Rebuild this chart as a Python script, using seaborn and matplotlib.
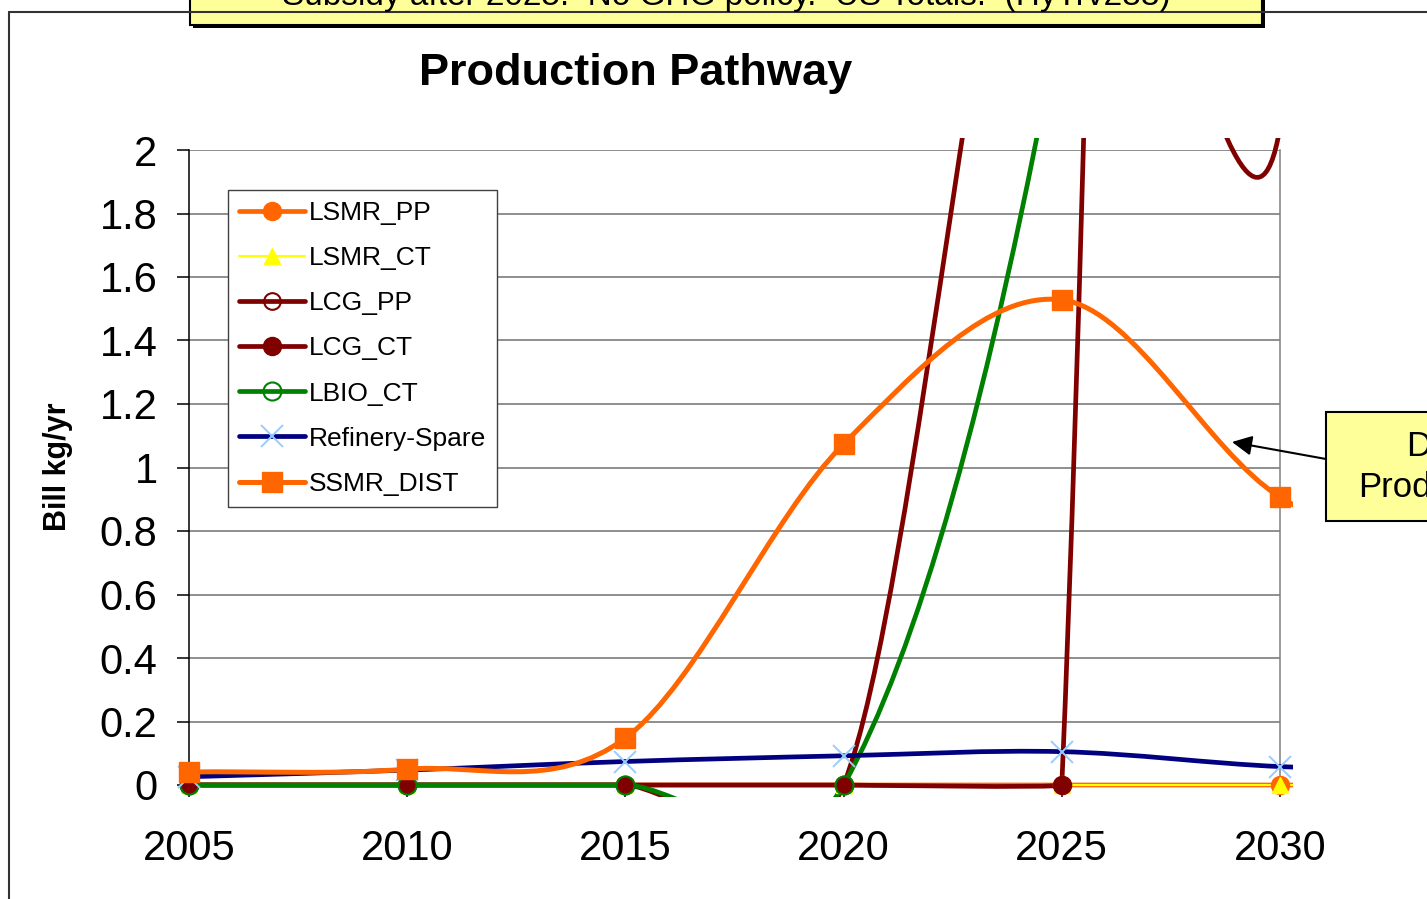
import numpy as np
import seaborn as sns
import matplotlib.pyplot as plt
from matplotlib.path import Path
from matplotlib.patches import PathPatch, Rectangle
from matplotlib.lines import Line2D

# values (Bill kg/yr); 2035 only shows as the stub past the right edge
years = [2005, 2010, 2015, 2020, 2025, 2030, 2035]
lsmr_pp = [0, 0, 0, 0, 0, 0, 0]
lsmr_ct = [0, 0, 0, 0, 0, 0, 0]
lcg_pp = [0, 0, 0, 0, 3.5, 2.07, 11.5]
lcg_ct = [0, 0, 0, 0, 0, 32, 36]
lbio_ct = [0, 0, 0, 0, 2.45, 7.5, 10]
refinery_spare = [0.026, 0.047, 0.074, 0.092, 0.105, 0.058, 0.045]
ssmr_dist = [0.041, 0.05, 0.148, 1.074, 1.528, 0.907, 0.67]

names = ['LSMR_PP', 'LSMR_CT', 'LCG_PP', 'LCG_CT', 'LBIO_CT', 'Refinery-Spare', 'SSMR_DIST']
series = dict(zip(names, [lsmr_pp, lsmr_ct, lcg_pp, lcg_ct, lbio_ct, refinery_spare, ssmr_dist]))

styles = {
    'LSMR_PP': dict(color='#FF6600', lw=3.4, marker='o', ms=13, mfc='#FF6600', mec='#FF6600', mew=1),
    'LSMR_CT': dict(color='#FFFF00', lw=1.5, marker='^', ms=11, mfc='#FFFF00', mec='#FFFF00', mew=1),
    'LCG_PP': dict(color='#800000', lw=3.4, marker='o', ms=12, mfc='none', mec='#800000', mew=1.5),
    'LCG_CT': dict(color='#800000', lw=3.4, marker='o', ms=13, mfc='#800000', mec='#800000', mew=1),
    'LBIO_CT': dict(color='#008000', lw=3.4, marker='o', ms=13, mfc='none', mec='#008000', mew=1.5),
    'Refinery-Spare': dict(color='#000080', lw=3.4, marker='x', ms=16, mfc='none', mec='#99CCFF', mew=1.4),
    'SSMR_DIST': dict(color='#FF6600', lw=3.6, marker='s', ms=14, mfc='#FF6600', mec='#FF6600', mew=1),
}

sns.set_theme(style='white')
plt.rcParams['font.family'] = ['Liberation Sans', 'DejaVu Sans']
plt.rcParams['text.color'] = 'black'

W, H = 1427, 899
fig = plt.figure(figsize=(W / 100, H / 100), dpi=100)
ax = fig.add_axes([189 / W, 1 - 785 / H, (1280 - 189) / W, (785 - 150) / H])
ax.set_xlim(2005, 2030)
ax.set_ylim(0, 2)


def excel_smooth(xs, ys):
    # Excel-like "smoothed line": cubic bezier per segment, worked out in pixels
    pts = ax.transData.transform(np.column_stack([xs, ys]).astype(float))
    n = len(pts)
    verts, codes = [pts[0]], [Path.MOVETO]
    for i in range(n - 1):
        p1, p2 = pts[i], pts[i + 1]
        p0 = pts[i - 1] if i > 0 else p1
        p3 = pts[i + 2] if i + 2 < n else p2
        d02 = np.hypot(*(p2 - p0))
        d12 = np.hypot(*(p2 - p1))
        d13 = np.hypot(*(p3 - p1))
        f1 = 1 / 6 if i > 0 else 1 / 3
        f2 = 1 / 6 if i + 2 < n else 1 / 3
        half = d12 / 2
        long0, long3 = d02 / 6 >= half, d13 / 6 >= half
        if not long0 and not long3:
            k1, k2 = f1, f2
        elif long0 and long3:
            k1, k2 = half / d02, half / d13
        elif long0:
            k1 = k2 = half / d02
        else:
            k1 = k2 = half / d13
        # very long neighbouring chords barely bend the segment
        k1 *= min(1, (8 * d12 / d02) ** 2)
        k2 *= min(1, (8 * d12 / d13) ** 2)
        verts += [p1 + (p2 - p0) * k1, p2 - (p3 - p1) * k2, p2]
        codes += [Path.CURVE4] * 3
    return Path(ax.transData.inverted().transform(np.array(verts)), codes)


# plot area clip is a bit larger than the axis range, like Excel
clip = Rectangle((2004.7, -0.038), 25.6, 2.076, transform=ax.transData)

for i, name in enumerate(names):
    st = styles[name]
    patch = PathPatch(excel_smooth(years, series[name]), fill=False, edgecolor=st['color'],
                      lw=st['lw'], capstyle='round', joinstyle='round', zorder=3 + i * 0.01)
    ax.add_patch(patch)
    patch.set_clip_path(clip)

for i, name in enumerate(names):
    st = styles[name]
    sns.lineplot(x=years, y=series[name], ax=ax, color=st['color'], marker=st['marker'],
                 markersize=st['ms'], markerfacecolor=st['mfc'], markeredgecolor=st['mec'],
                 markeredgewidth=st['mew'], linestyle='none', legend=False, zorder=4 + i * 0.01)
    ax.lines[-1].set_clip_path(clip)

# axes styling
ax.set_xticks(range(2005, 2031, 5))
yt = np.arange(0, 2.01, 0.2)
ax.set_yticks(yt)
ax.set_yticklabels([f'{v:g}' for v in yt])
ax.set_xlabel('')
ax.set_ylabel('')
ax.tick_params(axis='both', which='major', direction='out', length=8.6, width=1.1,
               color='black', labelsize=30, labelcolor='black', bottom=True, left=True)
ax.tick_params(axis='x', pad=23)
ax.tick_params(axis='y', pad=14)
ax.set_axisbelow(True)
ax.yaxis.grid(True, color='#707070', lw=1.1)
ax.xaxis.grid(False)
ax.spines['top'].set_visible(False)
ax.spines['right'].set_color('#808080')
ax.spines['right'].set_linewidth(1.1)
for s in ['left', 'bottom']:
    ax.spines[s].set_color('black')
    ax.spines[s].set_linewidth(1.1)

handles = [Line2D([0], [0], color=styles[n]['color'], lw=styles[n]['lw'], marker=styles[n]['marker'],
                  ms=styles[n]['ms'], mfc=styles[n]['mfc'], mec=styles[n]['mec'],
                  mew=styles[n]['mew'], solid_capstyle='round') for n in names]
leg = ax.legend(handles=handles, labels=names, loc='upper left',
                bbox_to_anchor=(228 / W, 1 - 190 / H), bbox_transform=fig.transFigure,
                frameon=True, fancybox=False, edgecolor='#404040', framealpha=1,
                fontsize=19, handlelength=2.5, handletextpad=0.15, labelspacing=0.8,
                borderpad=0.42, borderaxespad=0)
leg.get_frame().set_linewidth(1.0)
for t in leg.get_texts():
    t.set_color('black')

# titles
fig.text(636 / W, 1 - 73 / H, 'Production Pathway', ha='center', va='center',
         fontsize=32.5, fontweight='bold', color='black')
fig.text(58 / W, 1 - 467 / H, 'Bill kg/yr', ha='center', va='center', rotation=90,
         fontsize=22, fontweight='bold', color='black')

# outer chart border (only left and top are inside the picture)
fig.add_artist(Line2D([9 / W, 9 / W], [0, 1 - 12 / H], transform=fig.transFigure,
                      color='#333333', lw=1.5))
fig.add_artist(Line2D([9 / W, 1], [1 - 12 / H, 1 - 12 / H], transform=fig.transFigure,
                      color='#333333', lw=1.5))

# scenario note box at the top, cut by the picture edge
fig.add_artist(Rectangle((193 / W, 1 - 28 / H), 1072 / W, 60 / H, transform=fig.transFigure,
                         facecolor='black', edgecolor='none'))
fig.add_artist(Rectangle((190 / W, 1 - 25 / H), 1072 / W, 60 / H, transform=fig.transFigure,
                         facecolor='#FFFF99', edgecolor='black', lw=1.5))
fig.text(726 / W, 1 - 5 / H, 'Subsidy after 2025.  No GHG policy.  US Totals.  (HyTrv288)',
         ha='center', va='baseline', fontsize=24, color='black')

# callout on the right, cut by the picture edge
fig.add_artist(Rectangle((1326 / W, 1 - 521 / H), 150 / W, 109 / H, transform=fig.transFigure,
                         facecolor='#FFFF99', edgecolor='black', lw=1.5))
fig.text(1441 / W, 1 - 467 / H, 'Dist.\nProduction', ha='center', va='center',
         fontsize=25, linespacing=1.3, multialignment='center', color='black')
ax.annotate('', xy=(1232 / W, 1 - 442 / H), xytext=(1326 / W, 1 - 459 / H),
            xycoords='figure fraction', textcoords='figure fraction',
            arrowprops=dict(arrowstyle='-|>', color='black', lw=1.5, mutation_scale=30,
                            shrinkA=0, shrinkB=0))

fig.savefig('out.png', dpi=100)
